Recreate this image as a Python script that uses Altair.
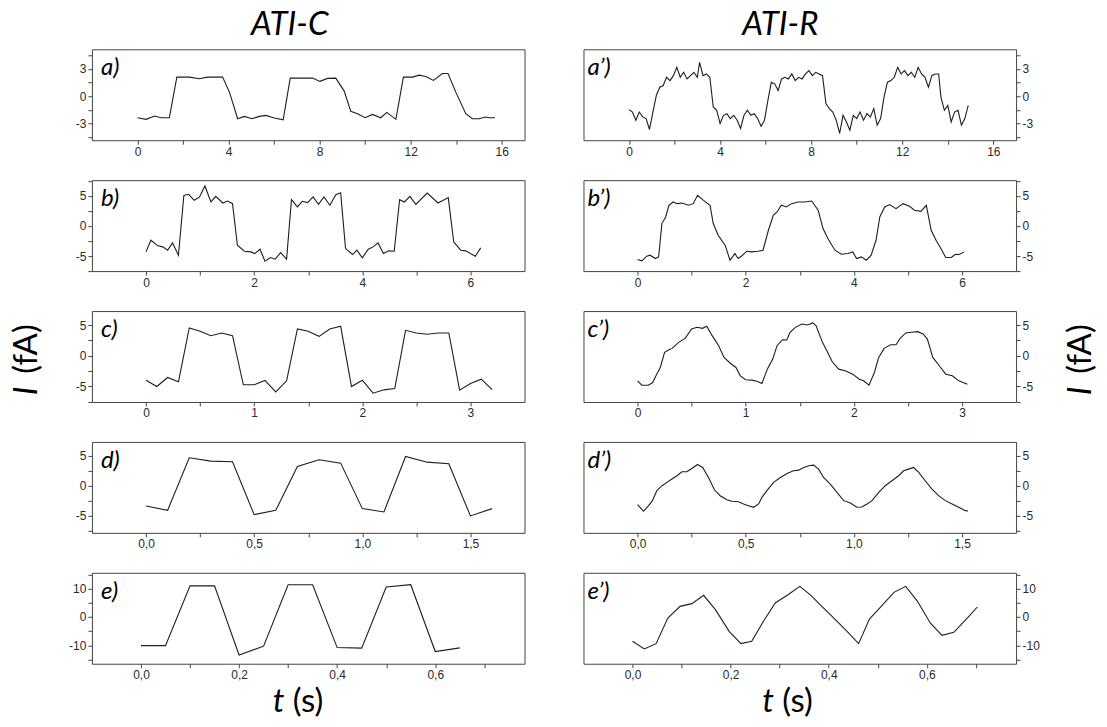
import altair as alt
import pandas as pd

# ---------------- data ----------------
a_t = [0, 0.38, 0.75, 1.04, 1.40, 1.73, 2.28, 2.72, 3.08, 3.74, 4.04, 4.40, 4.69, 5.03, 5.35,
       5.64, 6.01, 6.40, 6.71, 7.25, 7.69, 8.01, 8.35, 8.71, 9.08, 9.37, 9.66, 10.0, 10.32, 10.69,
       10.95, 11.35, 11.68, 12.08, 12.37, 12.66, 13.0, 13.39, 13.64, 13.98, 14.42, 14.71, 15.0, 15.29, 15.44, 15.70]
a_i = [-2.38, -2.56, -2.19, -2.38, -2.38, 2.09, 2.09, 1.91, 2.09, 2.09, 0.44, -2.49, -2.23, -2.49, -2.23,
       -2.12, -2.41, -2.60, 1.98, 1.98, 1.98, 1.62, 1.95, 1.98, 0.55, -1.68, -1.94, -2.38, -2.01, -2.38,
       -1.79, -2.56, 2.09, 2.09, 2.31, 2.16, 1.73, 2.49, 2.49, 0.44, -1.94, -2.49, -2.49, -2.30, -2.38, -2.38]

a2_t = [0.0, 0.15, 0.3, 0.45, 0.6, 0.75, 0.9, 1.05, 1.2, 1.35, 1.5, 1.65, 1.8, 1.95, 2.1, 2.25, 2.4, 2.55, 2.7, 2.85, 3.0,
        3.1, 3.25, 3.4, 3.55, 3.7, 3.85, 4.0, 4.15, 4.3, 4.45, 4.6, 4.75, 4.9, 5.05, 5.2, 5.35, 5.5, 5.65, 5.8, 5.95,
        6.1, 6.25, 6.4, 6.55, 6.7, 6.85, 7.0, 7.15, 7.3, 7.45, 7.6, 7.75, 7.9, 8.05, 8.2, 8.35, 8.5, 8.65, 8.8, 8.95,
        9.1, 9.25, 9.4, 9.55, 9.7, 9.85, 10.0, 10.15, 10.3, 10.45, 10.6, 10.75, 10.9, 11.05, 11.2, 11.35, 11.5, 11.65, 11.8, 11.95,
        12.1, 12.25, 12.4, 12.55, 12.7, 12.85, 13.0, 13.15, 13.3, 13.45, 13.6, 13.7, 13.85, 14.0, 14.15, 14.3, 14.45, 14.6, 14.75, 14.9]
a2_i = [-1.49, -1.75, -2.65, -1.75, -2.29, -2.47, -3.67, -1.75, 0.07, 0.98, 1.16, 2.07, 1.71, 2.25, 3.16, 2.07, 2.62, 1.89, 2.25, 2.62, 2.07,
        3.71, 2.25, 2.44, 2.07, -1.2, -1.56, -3.02, -2.11, -1.93, -2.47, -2.11, -2.65, -3.56, -2.11, -1.56, -2.11, -1.93, -2.47, -3.31, -2.65,
        -0.47, 1.53, 1.35, 0.62, 1.89, 2.07, 1.89, 2.44, 1.71, 2.07, 1.89, 2.44, 2.8, 2.25, 2.62, 2.44, 2.25, -0.84, -1.38, -1.75,
        -2.65, -4.11, -2.11, -2.84, -3.75, -2.11, -2.47, -1.75, -2.65, -1.93, -2.29, -1.38, -3.2, -2.47, -0.11, 1.53, 1.71, 2.07, 3.16, 2.44,
        2.8, 2.25, 2.62, 2.07, 3.16, 2.44, 2.07, 0.98, 2.25, 2.44, 2.44, -0.11, -1.56, -1.02, -2.84, -1.75, -1.56, -3.2, -2.47, -1.02]

b_t = [0, 0.09, 0.22, 0.31, 0.40, 0.49, 0.60, 0.70, 0.79, 0.89, 0.99, 1.09, 1.20, 1.29, 1.42, 1.51, 1.60, 1.69, 1.82, 1.94,
       2.01, 2.11, 2.20, 2.30, 2.39, 2.49, 2.60, 2.69, 2.80, 2.89, 2.99, 3.09, 3.19, 3.29, 3.40, 3.51, 3.60, 3.69, 3.82, 3.90,
       4.0, 4.11, 4.20, 4.29, 4.39, 4.49, 4.59, 4.69, 4.78, 4.88, 4.99, 5.20, 5.40, 5.59, 5.69, 5.82, 5.91, 6.09, 6.19]
b_i = [-4.31, -2.38, -3.31, -3.48, -4.03, -2.82, -4.86, 5.08, 5.25, 4.25, 4.81, 6.63, 3.98, 4.92, 3.81, 4.14, 3.70, -3.20, -4.20, -4.31,
       -4.59, -3.87, -5.86, -5.25, -5.52, -4.42, -5.52, 4.36, 3.15, 4.09, 3.87, 4.81, 3.59, 4.81, 3.43, 5.19, 5.52, -3.76, -4.75, -4.03,
       -5.30, -3.87, -3.48, -2.82, -4.59, -4.14, -4.20, 4.36, 3.98, 4.92, 3.59, 5.47, 3.81, 4.70, -2.65, -4.03, -4.14, -5.03, -3.65]

b2_t = [0, 0.08, 0.17, 0.23, 0.33, 0.39, 0.45, 0.52, 0.58, 0.66, 0.73, 0.82, 0.94, 1.03, 1.11, 1.22, 1.34, 1.40, 1.49, 1.62,
        1.71, 1.80, 1.86, 1.92, 2.02, 2.11, 2.23, 2.32, 2.42, 2.51, 2.58, 2.66, 2.75, 2.85, 2.97, 3.09, 3.22, 3.34, 3.43, 3.52,
        3.65, 3.77, 3.89, 3.98, 4.05, 4.14, 4.23, 4.32, 4.41, 4.48, 4.57, 4.66, 4.78, 4.91, 5.03, 5.12, 5.24, 5.34, 5.43, 5.52,
        5.61, 5.70, 5.80, 5.88, 5.95, 6.04]
b2_i = [-5.58, -5.80, -5.03, -4.86, -5.41, -5.14, 0.39, 1.49, 3.43, 3.98, 3.70, 3.81, 3.43, 3.70, 5.08, 4.25, 3.43, 0.39, -1.55, -3.20,
        -5.69, -4.59, -5.41, -5.03, -4.20, -4.31, -4.20, -4.03, -0.72, 1.77, 2.32, 3.43, 3.15, 3.70, 3.98, 3.98, 4.14, 2.60, -0.44, -2.10,
        -4.03, -4.70, -4.59, -4.31, -5.41, -5.14, -5.69, -4.86, -2.38, 1.49, 3.15, 3.54, 2.87, 3.70, 3.26, 2.60, 2.43, 3.43, -0.72, -2.38,
        -3.76, -5.25, -5.25, -4.70, -4.75, -4.31]

c_t = [0, 0.1, 0.2, 0.3, 0.4, 0.5, 0.6, 0.7, 0.8, 0.9, 1.0, 1.1, 1.2, 1.3, 1.4, 1.5, 1.6,
       1.7, 1.8, 1.9, 2.0, 2.1, 2.2, 2.3, 2.4, 2.5, 2.6, 2.7, 2.8, 2.9, 3.0, 3.1, 3.2]
c_i = [-3.99, -5.03, -3.55, -4.26, 4.54, 3.99, 3.28, 3.72, 3.28, -4.75, -4.75, -4.04, -5.90, -4.10, 4.37, 3.99, 3.17,
       4.37, 4.81, -5.03, -3.99, -6.12, -5.57, -5.36, 4.15, 3.72, 3.50, 3.72, 3.72, -5.63, -4.54, -3.83, -5.52]

c2_t = [0, 0.04, 0.10, 0.14, 0.17, 0.21, 0.25, 0.29, 0.32, 0.38, 0.44, 0.50, 0.55, 0.60, 0.64, 0.69, 0.75, 0.80, 0.86, 0.91,
        0.95, 1.0, 1.06, 1.11, 1.15, 1.20, 1.25, 1.29, 1.34, 1.38, 1.41, 1.46, 1.52, 1.57, 1.62, 1.65, 1.71, 1.75, 1.80, 1.86,
        1.92, 1.99, 2.05, 2.09, 2.14, 2.19, 2.23, 2.28, 2.34, 2.39, 2.43, 2.48, 2.53, 2.59, 2.64, 2.68, 2.73, 2.79, 2.85, 2.91,
        2.97, 3.05]
c2_i = [-4.10, -4.81, -4.81, -4.37, -3.28, -1.91, 0.55, 0.98, 1.20, 2.19, 2.84, 4.37, 4.64, 4.48, 4.81, 3.28, 1.64, -0.27, -1.26, -1.91,
        -3.28, -3.93, -3.99, -4.21, -4.54, -2.19, -0.55, 1.64, 2.62, 2.57, 3.83, 4.64, 5.19, 5.03, 5.36, 4.92, 2.19, 0.82, -0.98, -2.19,
        -2.46, -3.01, -3.83, -4.10, -4.81, -2.73, -0.27, 1.20, 1.80, 1.80, 2.90, 3.72, 3.83, 3.93, 3.55, 2.73, -0.27, -1.64, -3.01, -3.28,
        -4.10, -4.64]

d_t = [0, 0.1, 0.2, 0.3, 0.4, 0.5, 0.6, 0.7, 0.8, 0.9, 1.0, 1.1, 1.2, 1.3, 1.4, 1.5, 1.6]
d_i = [-3.35, -4.07, 4.62, 4.07, 3.96, -4.78, -4.07, 3.19, 4.29, 3.74, -3.79, -4.34, 4.84, 3.90, 3.63, -5.0, -3.79]

d2_t = [0, 0.028, 0.051, 0.069, 0.089, 0.113, 0.136, 0.159, 0.182, 0.205, 0.228, 0.251, 0.277, 0.301, 0.328, 0.356, 0.382, 0.413, 0.436, 0.467,
        0.49, 0.513, 0.536, 0.56, 0.575, 0.598, 0.629, 0.66, 0.691, 0.721, 0.745, 0.768, 0.791, 0.814, 0.837, 0.86, 0.891, 0.922, 0.953, 0.984,
        1.014, 1.037, 1.061, 1.084, 1.115, 1.145, 1.176, 1.207, 1.23, 1.253, 1.276, 1.30, 1.33, 1.361, 1.392, 1.423, 1.454, 1.485, 1.515, 1.528]
d2_i = [-3.13, -4.23, -3.30, -2.47, -0.82, 0, 0.55, 1.10, 1.65, 2.31, 2.31, 2.86, 3.52, 3.02, 1.37, -0.71, -1.65, -2.31, -2.58, -2.64,
        -3.02, -3.30, -3.57, -3.02, -1.92, -0.82, 0.55, 1.37, 2.03, 2.47, 2.58, 3.02, 3.30, 3.41, 2.75, 1.37, 0.27, -1.10, -2.47, -2.86,
        -3.57, -3.52, -3.02, -2.47, -1.10, 0, 0.82, 1.65, 2.47, 2.75, 3.02, 2.20, 0.82, -0.55, -1.65, -2.47, -3.02, -3.57, -4.12, -4.18]

e_t = [0, 0.05, 0.1, 0.15, 0.2, 0.25, 0.3, 0.35, 0.4, 0.45, 0.5, 0.55, 0.6, 0.65]
e_i = [-10.1, -10.1, 11.0, 11.0, -13.4, -10.3, 11.4, 11.4, -10.8, -11.0, 10.6, 11.4, -12.2, -10.9]

e2_t = [0, 0.024, 0.048, 0.072, 0.097, 0.121, 0.145, 0.169, 0.197, 0.221, 0.243, 0.267, 0.291, 0.317, 0.341,
        0.362, 0.386, 0.41, 0.434, 0.461, 0.483, 0.507, 0.533, 0.557, 0.581, 0.607, 0.631, 0.655, 0.683, 0.703]
e2_i = [-8.59, -11.29, -9.41, -0.35, 3.76, 4.71, 7.65, 2.59, -5.06, -9.41, -8.59, -1.53, 4.94, 7.88, 10.82,
        7.88, 3.76, -0.35, -4.47, -9.41, -0.71, 3.76, 8.71, 10.82, 5.53, -2.12, -6.47, -5.41, -0.35, 3.53]

panel_labels = ["a)", "b)", "c)", "d)", "e)"]
panel_labels_r = ["a\u2019)", "b\u2019)", "c\u2019)", "d\u2019)", "e\u2019)"]
column_titles = ["ATI-C", "ATI-R"]

# x axis: domain, tick values, labelled values, comma decimals
x_specs = [
    ([-2, 17], [0, 2, 4, 6, 8, 10, 12, 14, 16], [0, 4, 8, 12, 16], False),
    ([-1, 7], [0, 1, 2, 3, 4, 5, 6], [0, 2, 4, 6], False),
    ([-0.5, 3.5], [0, 0.5, 1, 1.5, 2, 2.5, 3], [0, 1, 2, 3], False),
    ([-0.25, 1.75], [0, 0.25, 0.5, 0.75, 1, 1.25, 1.5], [0, 0.5, 1, 1.5], True),
    ([-0.1, 0.782], [0, 0.1, 0.2, 0.3, 0.4, 0.5, 0.6, 0.7], [0, 0.2, 0.4, 0.6], True),
]
y_specs = [
    ([-4.85, 5.15], [-4.5, -3, -1.5, 0, 1.5, 3, 4.5], [-3, 0, 3]),
    ([-7.5, 7.6], [-7.5, -5, -2.5, 0, 2.5, 5, 7.5], [-5, 0, 5]),
    ([-7.55, 7.3], [-7.5, -5, -2.5, 0, 2.5, 5, 7.5], [-5, 0, 5]),
    ([-7.8, 7.25], [-7.5, -5, -2.5, 0, 2.5, 5], [-5, 0, 5]),
    ([-16.5, 15.6], [-15, -10, -5, 0, 5, 10, 15], [-10, 0, 10]),
]

left_data = [(a_t, a_i), (b_t, b_i), (c_t, c_i), (d_t, d_i), (e_t, e_i)]
right_data = [(a2_t, a2_i), (b2_t, b2_i), (c2_t, c2_i), (d2_t, d2_i), (e2_t, e2_i)]

W, H = 433, 91
LINE_COLOR = "#1e1e1e"
TXT_FONT = "Lato"


def text_layer(txt, x, y, size, italic=True, angle=0, align="left", baseline="alphabetic"):
    kw = dict(font=TXT_FONT, fontSize=size, align=align, baseline=baseline, color="#000")
    if italic:
        kw["fontStyle"] = "italic"
    if angle:
        kw["angle"] = angle
    return alt.Chart(pd.DataFrame({"s": [txt]})).mark_text(**kw).encode(
        text="s:N", x=alt.value(x), y=alt.value(y))


def panel(t, i, row, side, extras):
    xdom, xvals, xmaj, comma = x_specs[row]
    ydom, yvals, ymaj = y_specs[row]
    if comma:
        fmt = "replace(format(datum.value, '.1f'), '.', ',')"
    else:
        fmt = "'' + datum.value"
    xexpr = f"indexof({xmaj}, datum.value) >= 0 ? {fmt} : ''"
    yexpr = f"indexof({ymaj}, datum.value) >= 0 ? '' + datum.value : ''"
    df = pd.DataFrame({"t": t, "i": i})
    line = alt.Chart(df).mark_line(color=LINE_COLOR, strokeWidth=1.1).encode(
        x=alt.X("t:Q", scale=alt.Scale(domain=xdom, nice=False, zero=False),
                axis=alt.Axis(values=xvals, labelExpr=xexpr, title=None)),
        y=alt.Y("i:Q", scale=alt.Scale(domain=ydom, nice=False, zero=False),
                axis=alt.Axis(values=yvals, labelExpr=yexpr, title=None,
                              orient="left" if side == 0 else "right")),
    )
    lab = panel_labels[row] if side == 0 else panel_labels_r[row]
    lab_layer = text_layer(lab, 9 if side == 0 else 4, 26, 24)
    return alt.layer(line, lab_layer, *extras).properties(width=W, height=H)


panels = []
for r in range(5):
    extras_l, extras_r = [], []
    if r == 0:
        extras_l.append(text_layer(column_titles[0], 198, -14, 33, align="center"))
        extras_r.append(text_layer(column_titles[1], 197, -14, 33, align="center"))
    if r == 2:
        extras_l.append(text_layer("I", -65, 80, 33, italic=True, angle=270, align="center", baseline="middle"))
        extras_l.append(text_layer("(fA)", -65, 38, 33, italic=False, angle=270, align="center", baseline="middle"))
        extras_r.append(text_layer("I", 498, 80, 33, italic=True, angle=270, align="center", baseline="middle"))
        extras_r.append(text_layer("(fA)", 498, 38, 33, italic=False, angle=270, align="center", baseline="middle"))
    if r == 4:
        extras_l.append(text_layer("t", 181, 139, 33))
        extras_l.append(text_layer("(s)", 201, 139, 33, italic=False))
        extras_r.append(text_layer("t", 179, 139, 33))
        extras_r.append(text_layer("(s)", 199, 139, 33, italic=False))
    panels.append(panel(*left_data[r], r, 0, extras_l))
    panels.append(panel(*right_data[r], r, 1, extras_r))

chart = alt.concat(*panels, columns=2, spacing={"row": 40, "column": 59}, bounds="flush").properties(
    padding={"left": 2, "top": 0, "right": 0, "bottom": 0}
).configure_view(
    stroke="#444", strokeWidth=1
).configure_axis(
    grid=False, domain=False, labelFont="Liberation Sans", labelFontSize=12,
    labelColor="#2a2a2a", tickColor="#444", tickSize=4, tickWidth=1,
    labelOverlap=False, labelFlush=False, labelPadding=2
)

chart.save("out.html", embed_options={"renderer": "svg", "actions": False})
